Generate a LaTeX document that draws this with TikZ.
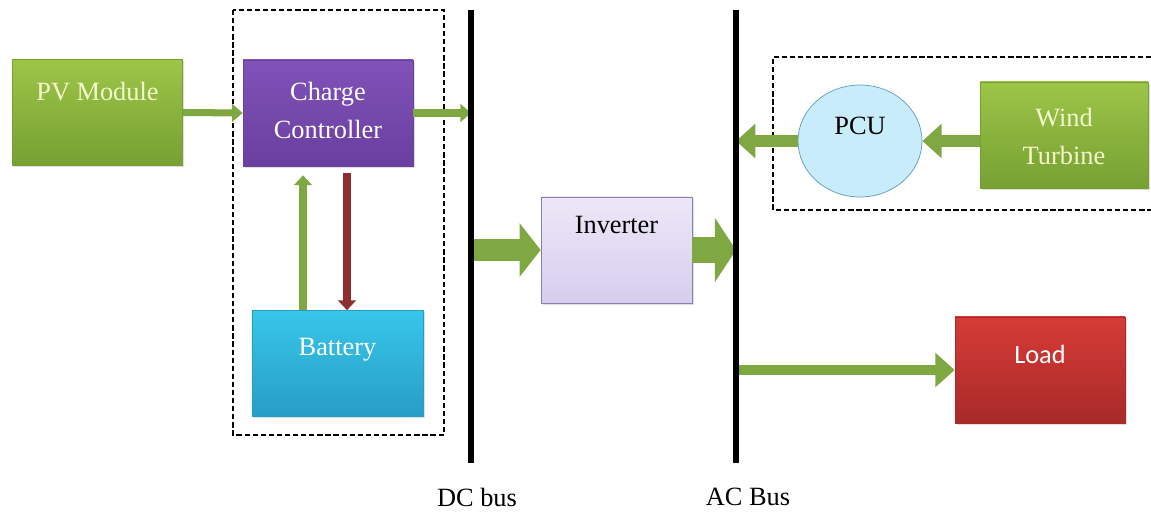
\documentclass[tikz,border=0pt]{standalone}
\usepackage{fontspec}
\setmainfont{Liberation Serif}
\newfontfamily\loadfont{Carlito}
\usetikzlibrary{positioning,arrows.meta,shapes.geometric,shadows}

\definecolor{grtop}{HTML}{9DC548}
\definecolor{grbot}{HTML}{76A032}
\definecolor{grtxt}{HTML}{F4F8CC}
\definecolor{cctop}{HTML}{8152B8}
\definecolor{ccbot}{HTML}{6A3FA0}
\definecolor{battop}{HTML}{38C6EA}
\definecolor{batbot}{HTML}{279DC6}
\definecolor{invtop}{HTML}{EDE8F8}
\definecolor{invbot}{HTML}{D6CDEE}
\definecolor{invline}{HTML}{8C7DB4}
\definecolor{pcufill}{HTML}{C9ECFB}
\definecolor{pculine}{HTML}{5E9CC0}
\definecolor{loadtop}{HTML}{D63B37}
\definecolor{loadbot}{HTML}{A82A28}
\definecolor{arrgreen}{HTML}{7FA742}
\definecolor{arrred}{HTML}{8E2F2F}

\begin{document}
\begin{tikzpicture}[x=0.2mm, y=-0.2mm, font=\fontsize{15}{21.5}\selectfont,
  blk/.style={draw, inner sep=0pt, minimum height=2.12cm,
              drop shadow={opacity=0.25, shadow xshift=1pt, shadow yshift=-1pt}},
  lbl/.style={inner sep=0pt, align=center},
  thin/.style={draw=arrgreen, line width=4pt,
               -{Triangle[length=6pt, width=10pt]}},
  vert/.style={line width=4.5pt, -{Triangle[length=5.5pt, width=10pt]}},
  fat/.style={draw=arrgreen, line width=13pt,
              -{Triangle[length=12pt, width=30pt]}},
  mid/.style={draw=arrgreen, line width=7pt,
              -{Triangle[length=11pt, width=19pt]}},
  bus/.style={line width=3pt},
  dashbox/.style={line width=0.8pt, dash pattern=on 3pt off 1.6pt}]
  \useasboundingbox (0,0) rectangle (1151,512);

  % enclosures
  \draw[dashbox] (233,10) rectangle (444,435);
  \draw[dashbox] (1151,57) -| (773,210) -- (1151,210);

  % blocks
  \node[blk, minimum width=3.4cm, draw=grbot, top color=grtop, bottom color=grbot]
    (pv) at (97.5,112.5) {};
  \node[blk, minimum width=3.4cm, draw=ccbot, top color=cctop, bottom color=ccbot]
    (cc) at (328,113) {};
  \node[blk, minimum width=3.42cm, draw=batbot, top color=battop, bottom color=batbot]
    (bat) at (337.5,363.5) {};
  \node[blk, minimum width=3.02cm, draw=invline, top color=invtop, bottom color=invbot]
    (inv) at (616.5,250) {};
  \node[ellipse, draw=pculine, fill=pcufill, inner sep=0pt,
        minimum width=2.48cm, minimum height=2.24cm] (pcu) at (860,141) {};
  \node[blk, minimum width=3.36cm, draw=grbot, top color=grtop, bottom color=grbot]
    (wt) at (1064,135) {};
  \node[blk, minimum width=3.4cm, draw=loadbot, top color=loadtop, bottom color=loadbot]
    (load) at (1040,370) {};

  % texts
  \node[lbl, text=grtxt, below=4.6mm of pv.north] (pvtxt) {PV Module};
  \node[lbl, text=white, below=4.5mm of cc.north] (cctxt) {Charge\\Controller};
  \node[lbl, text=white, below=5.6mm of bat.north] (battxt) {Battery};
  \node[lbl, below=3.8mm of inv.north] (invtxt) {Inverter};
  \node[lbl, below=6.4mm of pcu.north] (pcutxt) {PCU};
  \node[lbl, text=grtxt, below=5.2mm of wt.north] (wttxt) {Wind\\Turbine};
  \node[lbl, text=white, font=\loadfont\fontsize{15}{18}\selectfont,
        below=5.6mm of load.north] (loadtxt) {Load};

  % buses
  \coordinate (dctop) at (471,10);
  \coordinate (dcbot) at (471,463);
  \coordinate (actop) at (736,10);
  \coordinate (acbot) at (736,463);

  % flows
  \draw[thin] (pv.east) -- (cc.west);
  \draw[thin] (cc.east) -- (cc.east -| dctop);
  \draw[vert, draw=arrgreen, shorten >=1.8mm]
    ([xshift=-6.9mm]bat.north) -- ([xshift=-6.9mm]bat.north |- cc.south);
  \draw[vert, draw=arrred, shorten <=1.4mm]
    ([xshift=1.9mm]bat.north |- cc.south) -- ([xshift=1.9mm]bat.north);
  \draw[fat] (inv.west -| dctop) -- (inv.west);
  \draw[fat, line width=15pt, -{Triangle[length=12pt, width=36pt]}]
    (inv.east) -- (inv.east -| actop);
  \draw[mid] (pcu.east -| wt.west) -- (pcu.east);
  \draw[mid] (pcu.west) -- (pcu.west -| actop);
  \draw[mid, line width=6pt] (load.west -| actop) -- (load.west);

  \draw[bus] (dctop) -- (dcbot);
  \draw[bus] (actop) -- (acbot);
  \node (dclbl) at (477,497) {DC bus};
  \node (aclbl) at (748,497) {AC Bus};
\end{tikzpicture}
\end{document}
